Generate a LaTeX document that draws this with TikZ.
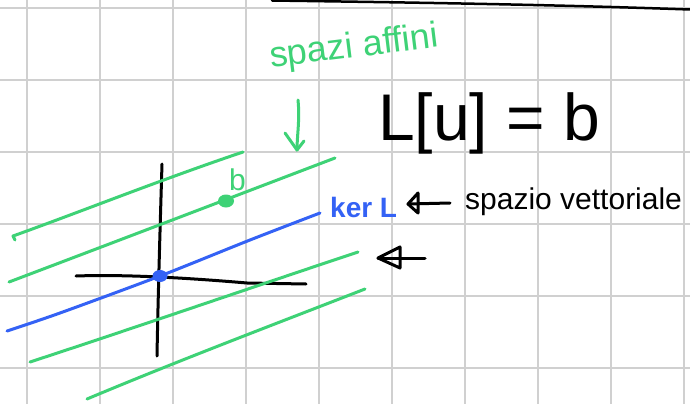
\documentclass[tikz,border=0pt]{standalone}
\usepackage{fontspec}
\setmainfont{Liberation Sans}
\definecolor{inkgreen}{RGB}{62,210,118}
\definecolor{inkblue}{RGB}{52,98,245}
\definecolor{gridgray}{RGB}{208,208,208}
\begin{document}
\begin{tikzpicture}[x=1pt,y=-1pt,
  ink/.style={line width=3pt,line cap=round,line join=round},
  gridline/.style={draw=gridgray,line width=1.5pt},
  txt/.style={inner sep=0pt,anchor=base west}]
\useasboundingbox (0,0) rectangle (690,404);
\fill[white] (0,0) rectangle (690,404);
% grid
\foreach \x in {27,100,173,246,319,392,465,538,611,684}
  \draw[gridline] (\x,0) -- (\x,404);
\foreach \y in {8,80,152,224,296,368}
  \draw[gridline] (0,\y) -- (690,\y);
% top black stroke
\draw[ink,line width=2.5pt] (272,0.5) .. controls (450,3) and (560,5) .. (690,9.5);
% axes
\coordinate (vt) at (162,164);
\coordinate (vb) at (157,356);
\coordinate (hl) at (76,276);
\coordinate (hr) at (306,284);
\draw[ink] (vt) .. controls (160,230) and (158,300) .. (vb);
\draw[ink] (hl) .. controls (130,274) and (200,279) .. (247,283) -- (hr);
% green parallel lines
\draw[ink,inkgreen] (15,240) -- (13,236) .. controls (80,212) and (160,180) .. (243,152);
\draw[ink,inkgreen] (9,282) .. controls (120,240) and (230,198) .. (335,158);
\draw[ink,inkgreen] (30,362) .. controls (140,326) and (250,288) .. (358,252);
\draw[ink,inkgreen] (87,399) .. controls (180,360) and (270,326) .. (365,289);
% blue kernel line
\draw[ink,inkblue] plot[smooth] coordinates {(7,331) (60,313) (160,276) (250,240) (320,213)};
\coordinate (origin) at (160,276);
\fill[inkblue] (origin) ellipse [x radius=7.5pt, y radius=6pt];
% point b
\coordinate (bpt) at (226,201);
\fill[inkgreen] (bpt) ellipse [x radius=8pt, y radius=6.5pt];
\node[txt,text=inkgreen,font=\fontsize{30}{32}\selectfont] (blab) at (229,190) {b};
% labels
\node[txt,font=\fontsize{66}{70}\selectfont] (eq) at (378,140) {L[u] = b};
\node[text=inkgreen,inner sep=0pt,rotate=7,font=\fontsize{36}{38}\selectfont] (aff) at (354,48) {spazi affini};
\node[txt,text=inkblue,font=\bfseries\fontsize{28}{30}\selectfont] (ker) at (330,217) {ker L};
\node[txt,font=\fontsize{30}{32}\selectfont] (sv) at (465,209) {spazio vettoriale};
% green arrow
\coordinate (ga1) at (298,100);
\coordinate (ga2) at (297,150);
\draw[ink,inkgreen] (ga1) .. controls (300,120) and (297,135) .. (ga2);
\draw[ink,inkgreen] (285,133) -- (ga2) -- (304,141);
% arrow ker <- spazio vettoriale
\coordinate (a1s) at (450,203);
\coordinate (a1t) at (408,204);
\draw[ink] (a1s) -- (a1t);
\draw[ink] (418,193) -- (a1t) -- (418,213) -- cycle;
% lone arrow
\coordinate (a2s) at (425,258);
\coordinate (a2t) at (378,258);
\draw[ink] (a2s) -- (a2t);
\draw[ink] (400,247) -- (a2t) -- (400,268) -- cycle;
\end{tikzpicture}
\end{document}
